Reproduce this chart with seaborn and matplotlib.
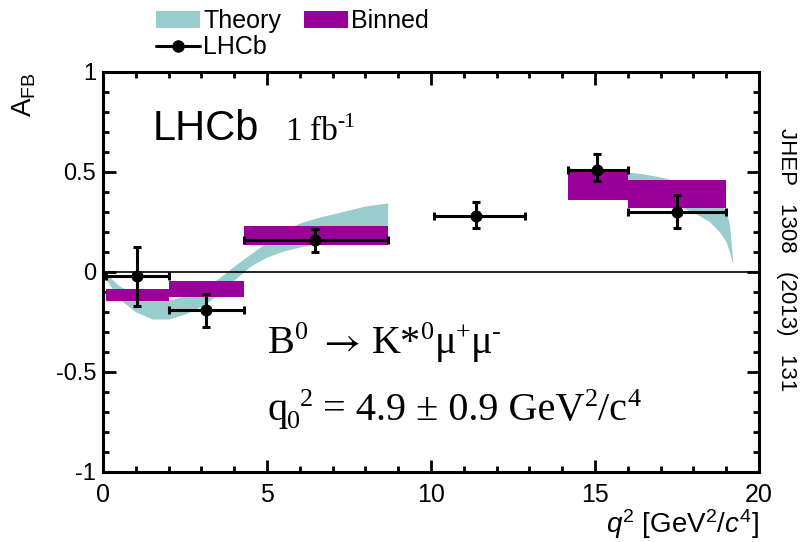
import matplotlib
matplotlib.use("Agg")
import matplotlib.pyplot as plt
import numpy as np
import pandas as pd
import seaborn as sns
from matplotlib.patches import Patch
from matplotlib.lines import Line2D
from matplotlib.ticker import MultipleLocator

# LHCb measurement of A_FB in q^2 bins
q2_lo = [0.1, 2.0, 4.3, 10.09, 14.18, 16.0]
q2_hi = [2.0, 4.3, 8.68, 12.86, 16.0, 19.0]
q2_mean = [1.03, 3.14, 6.46, 11.36, 15.06, 17.49]
afb = [-0.02, -0.19, 0.16, 0.28, 0.51, 0.30]
afb_err_up = [0.145, 0.08, 0.055, 0.07, 0.08, 0.085]
afb_err_dn = [0.15, 0.085, 0.06, 0.06, 0.055, 0.08]

# Binned SM prediction
bin_lo = [0.1, 2.0, 4.3, 14.18, 16.0]
bin_hi = [2.0, 4.3, 8.68, 16.0, 19.0]
bin_min = [-0.145, -0.125, 0.135, 0.36, 0.32]
bin_max = [-0.085, -0.045, 0.232, 0.50, 0.46]

# SM theory band, low-q2 region
th_q2_low = [0.1, 0.5, 1.0, 1.5, 2.0, 2.5, 3.0, 3.5, 4.0, 4.5, 5.0, 5.5,
             6.0, 6.5, 7.0, 7.5, 8.0, 8.68]
th_min_low = [-0.04, -0.135, -0.20, -0.235, -0.235, -0.21, -0.17, -0.115,
              -0.04, 0.03, 0.075, 0.105, 0.125, 0.14, 0.16, 0.18, 0.20, 0.225]
th_max_low = [-0.01, -0.07, -0.115, -0.14, -0.14, -0.12, -0.085, -0.035,
              0.03, 0.09, 0.15, 0.21, 0.245, 0.27, 0.29, 0.31, 0.33, 0.345]

# SM theory band, high-q2 region
th_q2_high = [14.18, 15.0, 16.0, 16.5, 17.0, 17.5, 18.0, 18.5, 18.8, 19.0,
              19.1, 19.2]
th_min_high = [0.43, 0.42, 0.40, 0.38, 0.36, 0.33, 0.30, 0.25, 0.20, 0.15,
               0.10, 0.04]
th_max_high = [0.52, 0.51, 0.50, 0.49, 0.475, 0.455, 0.43, 0.39, 0.35, 0.30,
               0.24, 0.05]

THEORY = "#99cccc"
BINNED = "#990099"
SERIF = ["Liberation Serif", "DejaVu Serif"]

sns.set_theme(style="ticks")
plt.rcParams.update({
    "font.family": ["Liberation Sans", "DejaVu Sans"],
    "axes.unicode_minus": False,
    "mathtext.fontset": "custom",
    "mathtext.rm": "Liberation Sans",
    "mathtext.it": "Liberation Sans:italic",
    "text.color": "black",
    "axes.labelcolor": "black",
    "axes.edgecolor": "black",
    "xtick.color": "black",
    "ytick.color": "black",
    "xtick.direction": "in",
    "ytick.direction": "in",
    "xtick.top": True,
    "xtick.bottom": True,
    "ytick.left": True,
    "ytick.right": True,
    "xtick.major.size": 9,
    "ytick.major.size": 9,
    "xtick.minor.size": 4.5,
    "ytick.minor.size": 4.5,
    "xtick.major.width": 2.0,
    "ytick.major.width": 2.0,
    "xtick.minor.width": 2.0,
    "ytick.minor.width": 2.0,
    "axes.linewidth": 2.2,
})


def rich_text(ax, x, y, parts, size, family):
    """Lay out a line of text with super/subscripts, segment by segment.

    parts: list of (text, kind, gap) where kind is 'n', 'sup', 'sub' or
    'arrow', and gap is extra space before the segment in units of the
    font size.
    """
    lp = 0.22  # descent of the font relative to its size
    txt0, _, _ = parts[0]
    base = ax.text(x, y, txt0, transform=ax.transAxes, fontsize=size,
                   family=family, va="baseline", ha="left")
    prev = base
    for txt, kind, gap in parts[1:]:
        kw = {}
        if kind == "sup":
            fs = 0.65 * size
            dy = 0.36 * size + lp * size - lp * fs
        elif kind == "sub":
            fs = 0.65 * size
            dy = -0.17 * size + lp * size - lp * fs
        elif kind == "arrow":
            fs = size
            dy = 0.0
            kw["math_fontfamily"] = "stix"
        else:
            fs = size
            dy = 0.0
        prev = ax.annotate(txt, xy=(1, 0), xycoords=(prev, base),
                           xytext=(gap * size, dy), textcoords="offset points",
                           fontsize=fs, family=family, va="bottom",
                           ha="left", annotation_clip=False, **kw)
    return base


fig = plt.figure(figsize=(8.03, 5.42), dpi=100)
fig.patch.set_facecolor("white")
ax = fig.add_axes([0.1283, 0.1292, 0.8169, 0.738])
ax.set_facecolor("white")

# theory band
ax.fill_between(th_q2_low, th_min_low, th_max_low, color=THEORY, lw=0, zorder=1)
ax.fill_between(th_q2_high, th_min_high, th_max_high, color=THEORY, lw=0, zorder=1)

# binned predictions
b_lo = np.array(bin_lo)
b_hi = np.array(bin_hi)
b_min = np.array(bin_min)
b_max = np.array(bin_max)
ax.bar(b_lo, b_max - b_min, bottom=b_min, width=b_hi - b_lo, align="edge",
       color=BINNED, linewidth=0, zorder=2)

ax.axhline(0, color="black", lw=1.2, zorder=3)

# data points
df = pd.DataFrame({"q2": q2_mean, "afb": afb})
m = np.array(q2_mean)
ax.errorbar(m, afb, xerr=[m - np.array(q2_lo), np.array(q2_hi) - m],
            yerr=[afb_err_dn, afb_err_up], fmt="none", ecolor="black",
            elinewidth=2.2, capsize=2.6, capthick=2.2, zorder=4)
sns.scatterplot(data=df, x="q2", y="afb", ax=ax, color="black", s=75,
                edgecolor="black", linewidth=0, zorder=5, legend=False)

ax.set_xlim(0, 20)
ax.set_ylim(-1, 1)
ax.xaxis.set_major_locator(MultipleLocator(5))
ax.set_yticks([-1, -0.5, 0, 0.5, 1])
ax.set_yticklabels(["-1", "-0.5", "0", "0.5", "1"])
ax.minorticks_on()
ax.xaxis.set_minor_locator(MultipleLocator(1))
ax.yaxis.set_minor_locator(MultipleLocator(0.1))
ax.tick_params(which="both", direction="in", top=True, right=True,
               bottom=True, left=True, width=2.0, color="black",
               labelcolor="black")
ax.tick_params(which="major", length=9)
ax.tick_params(which="minor", length=4.5)
ax.tick_params(axis="y", labelsize=17, pad=5)
ax.tick_params(axis="x", labelsize=18, pad=8)
for s in ax.spines.values():
    s.set_linewidth(2.2)
    s.set_color("black")
    s.set_visible(True)
    s.set_zorder(6)

ax.set_xlabel(r"$q^2$ [GeV$^2$/$c^4$]", fontsize=20, loc="right", labelpad=0)
ax.set_ylabel(r"A$_{\rm FB}$", fontsize=20, loc="top", labelpad=13)

# annotations
ax.text(0.076, 0.83, "LHCb", transform=ax.transAxes, fontsize=30,
        va="baseline", ha="left")
rich_text(ax, 0.277, 0.83,
          [("1", "n", 0), ("fb", "n", 0.25), ("-1", "sup", 0.0)],
          24, SERIF)
rich_text(ax, 0.2515, 0.2975,
          [("B", "n", 0), ("0", "sup", 0.0), (r"$\rightarrow$", "arrow", 0.25),
           ("K*", "n", 0.3), ("0", "sup", 0.0), ("\u03bc", "n", 0.0),
           ("+", "sup", 0.0), ("\u03bc", "n", 0.0), ("-", "sup", 0.0)],
          29, SERIF)
rich_text(ax, 0.25, 0.13,
          [("q", "n", 0), ("0", "sub", 0.0), ("2", "sup", 0.0),
           ("= 4.9 \u00b1 0.9 GeV", "n", 0.25), ("2", "sup", 0.0),
           ("/c", "n", 0.0), ("4", "sup", 0.0)],
          29, SERIF)
fig.text(787 / 803, 1 - 260 / 542, "JHEP   1308   (2013)   131",
         rotation=-90, ha="center", va="center", fontsize=16)

# legend above the frame
handles = [Patch(facecolor=THEORY, edgecolor="none"),
           Line2D([], [], color="black", lw=2.2, marker="o", markersize=8),
           Patch(facecolor=BINNED, edgecolor="none")]
labels = ["Theory", "LHCb", "Binned"]
fig.legend(handles, labels, ncol=2, loc="upper left",
           bbox_to_anchor=(156 / 803, 1 - 9 / 542), frameon=False,
           fontsize=18, handlelength=1.75, handleheight=0.7,
           handletextpad=0.15, columnspacing=0.9, labelspacing=0.1,
           borderpad=0, borderaxespad=0)

fig.savefig("out.png", dpi=100)
